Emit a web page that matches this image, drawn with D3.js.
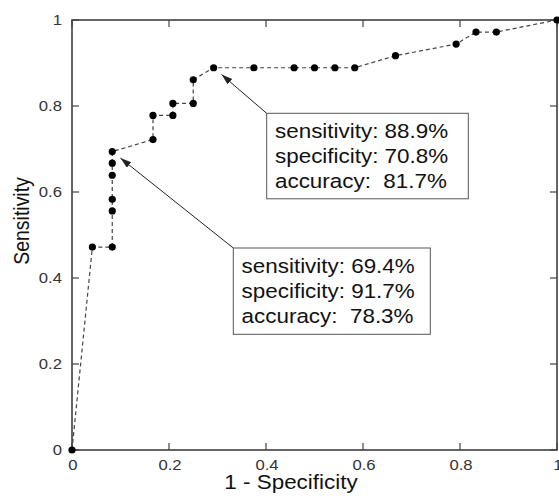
<!DOCTYPE html>
<html>
<head>
<meta charset="utf-8">
<script src="https://cdn.jsdelivr.net/npm/d3@7"></script>
<style>
  html, body { margin: 0; padding: 0; background: #fff; }
  text { font-family: "Liberation Sans", Arial, Helvetica, sans-serif; }
</style>
</head>
<body>
<div id="chart"></div>
<script>
// ROC curve points
const fpr = [0, 0.042, 0.083, 0.083, 0.083, 0.083, 0.083, 0.083, 0.167, 0.167, 0.208, 0.208, 0.250,
  0.250, 0.292, 0.375, 0.458, 0.500, 0.542, 0.583, 0.667, 0.792, 0.833, 0.875, 1];
const tpr = [0, 0.472, 0.472, 0.556, 0.583, 0.639, 0.667, 0.694, 0.722, 0.778, 0.778, 0.806, 0.806,
  0.861, 0.889, 0.889, 0.889, 0.889, 0.889, 0.889, 0.917, 0.944, 0.972, 0.972, 1];

const xTicks = [0, 0.2, 0.4, 0.6, 0.8, 1];
const yTicks = [0, 0.2, 0.4, 0.6, 0.8, 1];

// operating points that get a callout
const calloutX = [0.292, 0.083];
const calloutY = [0.889, 0.694];
const calloutText = [
  ['sensitivity: 88.9%', 'specificity: 70.8%', 'accuracy:  81.7%'],
  ['sensitivity: 69.4%', 'specificity: 91.7%', 'accuracy:  78.3%']
];

let full_width  = 559,
    full_height = 498,
    margin      = {top: 20, right: 2, bottom: 48, left: 72},
    width       = full_width - margin.left - margin.right,
    height      = full_height - margin.top - margin.bottom,
    stretch     = 1.15; // the picture is wider than tall, glyphs too

// callout boxes in pixels (left, top, width, height)
const boxes = [
  {left: 266.7, top: 113.3, w: 201.6, h: 85.5},
  {left: 233.3, top: 248.0, w: 197.0, h: 86.3}
];

let x = d3.scaleLinear().domain([0, 1]).range([margin.left, margin.left + width]);
let y = d3.scaleLinear().domain([0, 1]).range([margin.top + height, margin.top]);

let svg = d3.select('#chart').append('svg')
  .attr('width', full_width)
  .attr('height', full_height);

svg.append('rect').attr('width', full_width).attr('height', full_height).attr('fill', '#fff');

svg.append('defs').append('marker')
  .attr('id', 'head')
  .attr('markerUnits', 'userSpaceOnUse')
  .attr('markerWidth', 12).attr('markerHeight', 8)
  .attr('refX', 11).attr('refY', 3.5)
  .attr('orient', 'auto')
  .append('path')
  .attr('d', 'M0,0 L11,3.5 L0,7 Z')
  .attr('fill', '#222');

function label(g, px, py, str, size, anchor, rot) {
  return g.append('text')
    .attr('transform', 'translate(' + px + ',' + py + ') scale(' + stretch + ',1)' + (rot ? ' rotate(' + rot + ')' : ''))
    .attr('text-anchor', anchor)
    .style('font-size', size + 'px')
    .style('white-space', 'pre')
    .text(str);
}

// frame
svg.append('rect')
  .attr('x', margin.left).attr('y', margin.top)
  .attr('width', width).attr('height', height)
  .attr('fill', 'none')
  .attr('stroke', '#333')
  .attr('stroke-width', 1.5);

let tickLen = 7;
let ticks = svg.append('g').attr('stroke', '#444').attr('stroke-width', 1.2);
xTicks.forEach(function(t) {
  ticks.append('line').attr('x1', x(t)).attr('x2', x(t)).attr('y1', y(0)).attr('y2', y(0) - tickLen);
  ticks.append('line').attr('x1', x(t)).attr('x2', x(t)).attr('y1', y(1)).attr('y2', y(1) + tickLen);
});
yTicks.forEach(function(t) {
  ticks.append('line').attr('y1', y(t)).attr('y2', y(t)).attr('x1', x(0)).attr('x2', x(0) + tickLen);
  ticks.append('line').attr('y1', y(t)).attr('y2', y(t)).attr('x1', x(1)).attr('x2', x(1) - tickLen);
});

let tickLabels = svg.append('g').attr('fill', '#333');
xTicks.forEach(function(t) {
  label(tickLabels, x(t) + 1, 470, d3.format('~g')(t), 14.5, 'middle');
});
yTicks.forEach(function(t) {
  label(tickLabels, x(0) - 10, y(t) + 5, d3.format('~g')(t), 14.5, 'end');
});

// axis titles
label(svg, 291, 489, '1 - Specificity', 19.5, 'middle').attr('fill', '#111');
label(svg, 29, 221, 'Sensitivity', 19.5, 'middle', -90).attr('fill', '#111');

// curve
let pts = fpr.map(function(v, i) { return [v, tpr[i]]; });
let line = d3.line()
  .x(function(d) { return x(d[0]); })
  .y(function(d) { return y(d[1]); });

svg.append('path')
  .datum(pts)
  .attr('fill', 'none')
  .attr('stroke', '#444')
  .attr('stroke-width', 1.2)
  .attr('stroke-dasharray', '4,3')
  .attr('d', line);

svg.selectAll('circle.pt')
  .data(pts)
  .enter().append('circle')
  .attr('class', 'pt')
  .attr('cx', function(d) { return x(d[0]); })
  .attr('cy', function(d) { return y(d[1]); })
  .attr('r', 3.6)
  .attr('fill', '#000');

// callouts
boxes.forEach(function(b, i) {
  let px = x(calloutX[i]), py = y(calloutY[i]);
  let dx = b.left - px, dy = b.top - py, len = Math.sqrt(dx * dx + dy * dy);
  let gap = 10.5;

  svg.append('line')
    .attr('x1', b.left).attr('y1', b.top)
    .attr('x2', px + dx / len * gap).attr('y2', py + dy / len * gap)
    .attr('stroke', '#222')
    .attr('stroke-width', 1)
    .attr('marker-end', 'url(#head)');

  svg.append('rect')
    .attr('x', b.left).attr('y', b.top)
    .attr('width', b.w).attr('height', b.h)
    .attr('fill', '#fff')
    .attr('stroke', '#555')
    .attr('stroke-width', 1);

  calloutText[i].forEach(function(str, j) {
    label(svg, b.left + 8.3, b.top + 25 + j * 25, str, 19.5, 'start').attr('fill', '#111');
  });
});
</script>
</body>
</html>
